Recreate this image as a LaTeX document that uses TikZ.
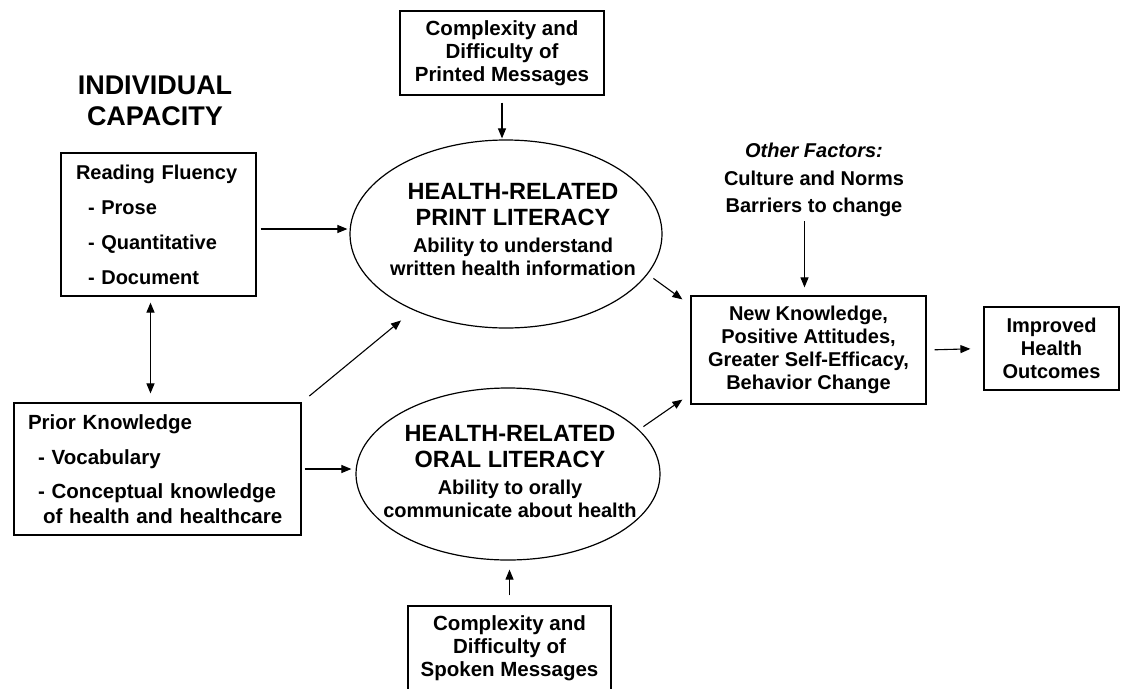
\documentclass[tikz,border=0pt]{standalone}
\usepackage{fontspec}
\setmainfont{Liberation Sans}
\usetikzlibrary{calc,arrows.meta,shapes.geometric}

\begin{document}
\begin{tikzpicture}[x=1pt,y=-1pt,>={Triangle[length=10pt,width=8pt]},
  box/.style={draw,line width=1.2pt,inner sep=0pt},
  oval/.style={draw,ellipse,line width=1.2pt,inner sep=0pt,minimum width=312pt,minimum height=188pt},
  txt/.style={align=center,inner sep=0pt},
  arr/.style={->,line width=1.1pt}]
\useasboundingbox (0,0) rectangle (1124,688);
% left column
\node[txt,font=\bfseries\fontsize{27}{31}\selectfont] (title) at (155,101) {INDIVIDUAL\\CAPACITY};
\node[box,align=left,text width=165pt,inner xsep=15pt,minimum height=143pt,
      font=\bfseries\fontsize{20}{35}\selectfont] (rf) at (158.5,224.5)
  {Reading Fluency\\\hspace*{12pt}- Prose\\\hspace*{12pt}- Quantitative\\\hspace*{12pt}- Document};
\node[box,align=left,text width=259pt,inner xsep=14pt,minimum height=132pt,
      font=\bfseries\fontsize{20.5}{25}\selectfont] (pk) at (157.5,469)
  {Prior Knowledge\\[10pt]\hspace*{10pt}- Vocabulary\\[9pt]\hspace*{10pt}- Conceptual knowledge\\\hspace*{15pt}of health and healthcare};
% message boxes
\node[box,align=center,minimum width=204pt,minimum height=84pt,
      font=\bfseries\fontsize{20.5}{23}\selectfont] (pm) at (502,53) {Complexity and\\Difficulty of\\Printed Messages};
\node[box,align=center,minimum width=203pt,minimum height=84pt,
      font=\bfseries\fontsize{20.5}{23}\selectfont] (sm) at (509.5,648) {Complexity and\\Difficulty of\\Spoken Messages};
% the two literacies
\node[oval] (print) at (506,234) {};
\node[txt,font=\bfseries\fontsize{23.5}{26}\selectfont] (printhd) at (513,205) {HEALTH-RELATED\\PRINT LITERACY};
\node[txt,font=\bfseries\fontsize{20}{23}\selectfont] (printsub) at (513,257) {Ability to understand\\written health information};
\node[oval,minimum width=304pt,minimum height=172pt] (oral) at (508,474) {};
\node[txt,font=\bfseries\fontsize{23.5}{26}\selectfont] (oralhd) at (510,447) {HEALTH-RELATED\\ORAL LITERACY};
\node[txt,font=\bfseries\fontsize{20}{23}\selectfont] (oralsub) at (510,499) {Ability to orally\\communicate about health};
% right side
\node[txt,font=\bfseries\fontsize{20}{27.5}\selectfont] (of) at (814,180) {\textit{Other Factors:}\\Culture and Norms\\Barriers to change};
\node[box,align=center,minimum width=235pt,minimum height=108pt,
      font=\bfseries\fontsize{20}{23}\selectfont] (nk) at (808.5,350)
  {New Knowledge,\\Positive Attitudes,\\Greater Self-Efficacy,\\Behavior Change};
\node[box,align=center,minimum width=135pt,minimum height=83pt,
      font=\bfseries\fontsize{20}{23}\selectfont] (ih) at (1051.5,348.5) {Improved\\Health\\Outcomes};

\coordinate (rfout) at ($(rf.east)+(4,4.5)$);
\coordinate (ofin) at ($(nk.north)+(-4,-8)$);
\draw[arr,shorten >=2pt] (rfout) -- (rfout -| print.west);
\draw[arr,<->,shorten <=6pt,shorten >=9pt] ([xshift=-8pt]rf.south) -- ([xshift=-7pt]pk.north);
\draw[arr,shorten <=10pt,shorten >=16pt] (pk.north east) -- (print);
\draw[arr,shorten <=3pt,shorten >=4pt] (pk.east) -- (pk.east -| oral.west);
\draw[arr,shorten <=7pt,shorten >=1pt] (pm.south) -- (pm.south |- print.north);
\draw[arr,shorten <=10pt,shorten >=9pt] (sm.north) -- (sm.north |- oral.south);
\draw[arr,shorten <=4pt] (of.south -| ofin) -- (ofin);
\draw[arr] ($(nk.north west)+(-37,-17)$) -- ($(nk.north west)+(-8,4)$);
\draw[arr] ($(nk.south west)+(-47,22)$) -- ($(nk.south west)+(-8,-5)$);
\draw[arr,shorten <=8pt,shorten >=13pt] (nk.east) -- (ih.west);
\end{tikzpicture}
\end{document}
